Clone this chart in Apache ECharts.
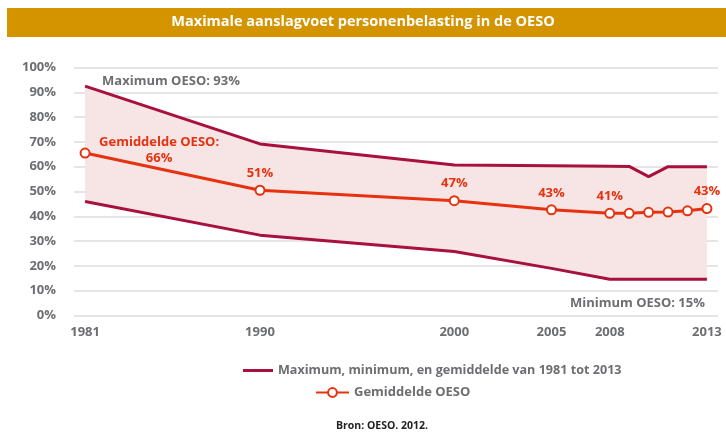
<!DOCTYPE html>
<html>
<head>
<meta charset="utf-8">
<script src="https://cdn.jsdelivr.net/npm/echarts@6/dist/echarts.min.js"></script>
<style>
html, body { margin: 0; padding: 0; background: #fff; }
#main { width: 726px; height: 432px; }
</style>
</head>
<body>
<div id="main"></div>
<script>
// jaren en percentages
const years = [1981, 1990, 2000, 2005, 2008, 2009, 2010, 2011, 2012, 2013];
const maxVals = [92.5, 69.2, 60.7, 60.4, 60.2, 60.1, 56, 60, 60, 60];
const minVals = [46, 32.4, 25.8, 19, 14.6, 14.6, 14.6, 14.6, 14.6, 14.6];
const meanVals = [65.5, 50.5, 46.3, 42.6, 41.2, 41.2, 41.6, 41.7, 42.2, 43.1];
const meanLabels = ["Gemiddelde OESO:\n66%", "51%", "47%", "43%", "41%", "", "", "", "", "43%"];
const xTicks = [1981, 1990, 2000, 2005, 2008, 2013];
const yTicks = [0, 10, 20, 30, 40, 50, 60, 70, 80, 90, 100];

const FONT = "'Open Sans', sans-serif";
const GRAY = "#6d6e71";
const RED = "#e6320f";
const DARK = "#a8103e";
const BAND = "#f7e4e5";

const legendMax = "Maximum, minimum, en gemiddelde van 1981 tot 2013";
const legendMean = "Gemiddelde OESO";

let chart = echarts.init(document.getElementById("main"));

// data punten
const maxData = years.map((y, i) => {
    let item = { value: [y, maxVals[i]] };
    if (i === 0) {
        item.label = {
            show: true,
            position: "right",
            distance: 17,
            offset: [0, -5],
            formatter: "Maximum OESO: 93%",
            color: GRAY, fontFamily: FONT, fontWeight: "bold", fontSize: 13
        };
    }
    return item;
});
const minData = years.map((y, i) => {
    let item = { value: [y, minVals[i]] };
    if (i === years.length - 1) {
        item.label = {
            show: true,
            position: "inside",
            align: "right",
            offset: [-2, 24],
            formatter: "Minimum OESO: 15%",
            color: GRAY, fontFamily: FONT, fontWeight: "bold", fontSize: 13
        };
    }
    return item;
});
const bandData = years.map((y, i) => [y, minVals[i], maxVals[i]]);
const meanData = years.map((y, i) => {
    let item = { value: [y, meanVals[i]] };
    if (meanLabels[i]) {
        item.label = i === 0
            ? { show: true, position: "inside", offset: [74, -3], align: "center", lineHeight: 16, formatter: meanLabels[i] }
            : { show: true, position: "top", distance: 5, formatter: meanLabels[i] };
    }
    return item;
});

// vlak tussen maximum en minimum
function renderBand(params, api) {
    if (params.dataIndex !== 0) return;
    let top = years.map((y, i) => api.coord([y, maxVals[i]]));
    let bottom = years.map((y, i) => api.coord([y, minVals[i]])).reverse();
    return {
        type: "polygon",
        shape: { points: top.concat(bottom) },
        style: { fill: BAND }
    };
}

const option = {
    animation: false,
    graphic: [
        { type: "rect", z: 0, shape: { x: 7, y: 8, width: 719, height: 29 }, style: { fill: "#d39400" } }
    ],
    title: [
        {
            text: "Maximale aanslagvoet personenbelasting in de OESO",
            left: "center", top: 13, padding: 0, z: 10,
            textStyle: { color: "#fff", fontFamily: FONT, fontWeight: "bold", fontSize: 14.5, lineHeight: 18 }
        },
        {
            text: "Bron: OESO. 2012.",
            left: 336, top: 421, padding: 0,
            textStyle: { color: "#222", fontFamily: FONT, fontWeight: "bold", fontSize: 10.5 }
        }
    ],
    legend: [
        {
            left: 243, top: 364, padding: 0,
            icon: "rect", itemWidth: 30, itemHeight: 3, itemGap: 8,
            data: [{ name: legendMax, itemStyle: { color: DARK } }],
            textStyle: { color: GRAY, fontFamily: FONT, fontWeight: "bold", fontSize: 12.6 }
        },
        {
            left: 315, top: 386, padding: 0,
            itemWidth: 33, itemHeight: 11, itemGap: 8,
            data: [legendMean],
            textStyle: { color: GRAY, fontFamily: FONT, fontWeight: "bold", fontSize: 13 }
        }
    ],
    grid: { left: 74, right: 8, top: 67.5, bottom: 116.5 },
    xAxis: {
        type: "value",
        min: 1980.43,
        max: 2013.57,
        axisLine: { show: false },
        axisTick: { show: false },
        splitLine: { show: false },
        axisLabel: {
            customValues: xTicks,
            formatter: (v) => String(v),
            margin: 10,
            color: GRAY, fontFamily: FONT, fontWeight: "bold", fontSize: 13
        }
    },
    yAxis: {
        type: "value",
        min: yTicks[0],
        max: yTicks[yTicks.length - 1],
        interval: 10,
        axisLine: { show: false },
        axisTick: { show: false },
        splitLine: { lineStyle: { color: "#dcdcdc", width: 1.5 } },
        axisLabel: {
            formatter: "{value}%",
            margin: 18,
            color: GRAY, fontFamily: FONT, fontWeight: "bold", fontSize: 13
        }
    },
    series: [
        {
            name: "band",
            type: "custom",
            renderItem: renderBand,
            data: bandData,
            encode: { x: 0, y: [1, 2] },
            z: 1
        },
        {
            name: "Minimum OESO",
            type: "line",
            data: minData,
            symbol: "circle",
            symbolSize: 0,
            showSymbol: true,
            lineStyle: { color: DARK, width: 3 },
            itemStyle: { color: DARK },
            z: 3
        },
        {
            name: legendMax,
            type: "line",
            data: maxData,
            symbol: "circle",
            symbolSize: 0,
            showSymbol: true,
            lineStyle: { color: DARK, width: 3 },
            itemStyle: { color: DARK },
            z: 3
        },
        {
            name: legendMean,
            type: "line",
            data: meanData,
            symbol: "emptyCircle",
            symbolSize: 9,
            lineStyle: { color: RED, width: 3 },
            itemStyle: { color: RED, borderColor: RED, borderWidth: 2 },
            label: { color: RED, fontFamily: FONT, fontWeight: "bold", fontSize: 13 },
            z: 4
        }
    ]
};

chart.setOption(option);
</script>
</body>
</html>
